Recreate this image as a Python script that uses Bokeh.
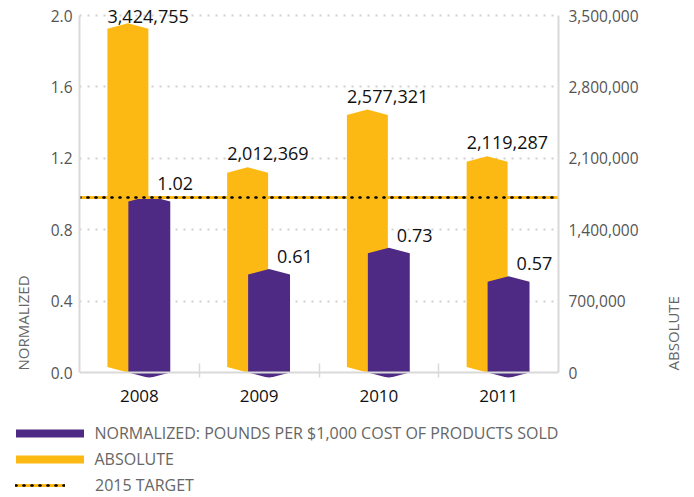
import math
import numpy as np
from bokeh.plotting import figure
from bokeh.layouts import column, row
from bokeh.models import (Range1d, LinearAxis, FixedTicker, NumeralTickFormatter,
                          ColumnDataSource, Legend, LegendItem, Span)
from bokeh.core.properties import value
from bokeh.embed import file_html
from bokeh.resources import INLINE

# ---------------- data ----------------
years = ["2008", "2009", "2010", "2011"]
normalized = [1.02, 0.61, 0.73, 0.57]
absolute = [3424755, 2012369, 2577321, 2119287]
target_2015 = 0.98
left_ticks = [0.0, 0.4, 0.8, 1.2, 1.6, 2.0]
right_ticks = [0, 700000, 1400000, 2100000, 2800000, 3500000]
normalized_labels = ["1.02", "0.61", "0.73", "0.57"]
absolute_labels = ["3,424,755", "2,012,369", "2,577,321", "2,119,287"]
legend_labels = ["NORMALIZED: POUNDS PER $1,000 COST OF PRODUCTS SOLD", "ABSOLUTE", "2015 TARGET"]
axis_titles = ["NORMALIZED", "ABSOLUTE"]

# ---------------- style / layout ----------------
YELLOW = "#FDB913"
PURPLE = "#4F2A84"
FONT = "Open Sans"
AXIS_GRAY = "#d9d9d9"
W, H = 694, 497
H_MAIN = 420
W_LEFT, W_RIGHT = 36, 44
W_MAIN = W - W_LEFT - W_RIGHT
FRAME_L, FRAME_R = 79, 558          # page pixels
PX_TOP_TICK = 15
PX_ZERO = 372
PX_FRAME_BOTTOM = 377
PX_TITLE_START = 370
CHEV = 5.5

left_max = left_ticks[-1]
right_max = right_ticks[-1]
ppu_l = (PX_ZERO - PX_TOP_TICK) / left_max
ppu_r = (PX_ZERO - PX_TOP_TICK) / right_max
n = len(years)
ppx = (FRAME_R - FRAME_L) / n

y_l = Range1d(-(PX_FRAME_BOTTOM - PX_ZERO) / ppu_l, left_max + PX_TOP_TICK / ppu_l)
y_r = Range1d(-(PX_FRAME_BOTTOM - PX_ZERO) / ppu_r, right_max + PX_TOP_TICK / ppu_r)

common = dict(output_backend="svg", toolbar_location=None, outline_line_color=None,
              background_fill_color="white", border_fill_color="white")

p = figure(width=W_MAIN, height=H_MAIN, x_range=Range1d(0, n), y_range=y_l,
           min_border_left=FRAME_L - W_LEFT, min_border_right=W_MAIN - (FRAME_R - W_LEFT),
           min_border_top=0, min_border_bottom=H_MAIN - PX_FRAME_BOTTOM, **common)
p.extra_y_ranges = {"abs": y_r}

Y_OFF, Y_W = -0.096, 0.342
P_OFF, P_W = 0.083, 0.35


def hexagon(xc, w, y0, y1, c):
    xl, xr = xc - w / 2, xc + w / 2
    return ([xl, xc, xr, xr, xc, xl],
            [y0 + c, y0, y0 + c, y1 - c, y1, y1 - c])


centers = np.arange(n) + 0.5
c_r = CHEV / ppu_r
c_l = CHEV / ppu_l
yxs, yys, pxs, pys = [], [], [], []
for i in range(n):
    xs, ys = hexagon(centers[i] + Y_OFF, Y_W, 0, absolute[i], c_r)
    yxs.append(xs); yys.append(ys)
    xs, ys = hexagon(centers[i] + P_OFF, P_W, -c_l, normalized[i] - c_l, c_l)
    pxs.append(xs); pys.append(ys)

# grid
p.ygrid.ticker = FixedTicker(ticks=left_ticks[1:])
p.ygrid.grid_line_color = "#d0d0d0"
p.ygrid.grid_line_width = 2
p.ygrid.grid_line_dash = "2 6"
p.xgrid.grid_line_color = None

# baseline
p.add_layout(Span(location=0, dimension="width", line_color=AXIS_GRAY, line_width=2))

p.patches(xs=yxs, ys=yys, fill_color=YELLOW, line_color=None, y_range_name="abs")
p.patches(xs=pxs, ys=pys, fill_color=PURPLE, line_color=None)

tx = [p.x_range.start, p.x_range.end]
ty = [target_2015, target_2015]
p.line(x=tx, y=ty, line_color=YELLOW, line_width=3)
p.line(x=tx, y=ty, line_color="black", line_width=2.6, line_dash="1 7", line_cap="round")

# value labels
abs_src = ColumnDataSource(dict(
    x=centers + Y_OFF - Y_W / 2,
    y=np.minimum(np.array(absolute) + 13.5 / ppu_r, right_max - 1 / ppu_r),
    t=absolute_labels))
p.text(x="x", y="y", text="t", source=abs_src, y_range_name="abs",
       text_font=value(FONT), text_font_size="18px", text_color="#111",
       text_baseline="alphabetic", text_align="left")
norm_src = ColumnDataSource(dict(
    x=centers + P_OFF - P_W / 2 + 29 / ppx,
    y=normalized, t=normalized_labels))
p.text(x="x", y="y", text="t", source=norm_src, y_offset=-7,
       text_font=value(FONT), text_font_size="18px", text_color="#111",
       text_baseline="alphabetic", text_align="left")

# left axis
ya = p.yaxis[0]
ya.ticker = FixedTicker(ticks=left_ticks)
ya.formatter = NumeralTickFormatter(format="0.0")
ya.bounds = (0, left_max)
ya.major_label_text_font = FONT
ya.major_label_text_font_size = "15.5px"
ya.major_label_text_color = "#555"
ya.major_label_standoff = 7
ya.major_tick_out = 0
ya.major_tick_in = 0
ya.axis_line_color = AXIS_GRAY
ya.axis_line_width = 2
ya.major_tick_line_color = None
ya.minor_tick_line_color = None

# right axis
ra = LinearAxis(y_range_name="abs", ticker=FixedTicker(ticks=right_ticks),
                formatter=NumeralTickFormatter(format="0,0"), bounds=(0, right_max))
ra.major_label_text_font = FONT
ra.major_label_text_font_size = "15.5px"
ra.major_label_text_color = "#555"
ra.major_label_standoff = 10
ra.major_tick_out = 0
ra.major_tick_in = 0
ra.axis_line_color = AXIS_GRAY
ra.axis_line_width = 2
ra.major_tick_line_color = None
ra.minor_tick_line_color = None
p.add_layout(ra, "right")

# x axis
xa = p.xaxis[0]
xa.ticker = FixedTicker(ticks=list(centers), minor_ticks=list(np.arange(1, n)))
xa.major_label_overrides = {float(c): y for c, y in zip(centers, years)}
xa.major_label_text_font = FONT
xa.major_label_text_font_size = "17px"
xa.major_label_text_color = "#111"
xa.major_label_standoff = 12
xa.major_tick_out = 0
xa.major_tick_in = 0
xa.axis_line_color = None
xa.major_tick_line_color = None
xa.minor_tick_in = 14
xa.minor_tick_out = 0
xa.minor_tick_line_color = AXIS_GRAY
xa.minor_tick_line_width = 1.5


# ---------------- axis titles (side panels) ----------------
def side_title(width, text, cx):
    f = figure(width=width, height=H_MAIN, x_range=Range1d(0, width), y_range=Range1d(0, H_MAIN),
               x_axis_location=None, y_axis_location=None,
               min_border_left=0, min_border_right=0, min_border_top=0, min_border_bottom=0,
               **common)
    f.frame_align = False
    f.grid.visible = False
    src = ColumnDataSource(dict(x=[cx], y=[H_MAIN - PX_TITLE_START], t=[text]))
    f.text(x="x", y="y", text="t", source=src, angle=math.pi / 2,
           text_font=value(FONT), text_font_size="15px", text_color="#666",
           text_align="left", text_baseline="middle")
    return f


p_left = side_title(W_LEFT, axis_titles[0], 22)
p_right = side_title(W_RIGHT, axis_titles[1], 672 - (W - W_RIGHT))

# ---------------- legend panel ----------------
H_LEG = H - H_MAIN
pl = figure(width=W, height=H_LEG, x_range=Range1d(0, 1), y_range=Range1d(0, 1),
            x_axis_location=None, y_axis_location=None,
            min_border_left=0, min_border_right=0, min_border_top=0, min_border_bottom=0,
            **common)
pl.frame_align = False
pl.grid.visible = False
lr_norm = pl.patches(xs=pxs, ys=pys, fill_color=PURPLE, line_color=None, visible=False)
lr_abs = pl.patches(xs=yxs, ys=yys, fill_color=YELLOW, line_color=None, visible=False)
lr_t1 = pl.line(x=tx, y=ty, line_color=YELLOW, line_width=3, visible=False)
lr_t2 = pl.line(x=tx, y=ty, line_color="black", line_width=2.6, line_dash="1 7",
                line_cap="round", visible=False)

leg_style = dict(orientation="vertical", glyph_height=10, spacing=3, padding=0, margin=0,
                 border_line_color=None, background_fill_alpha=0, label_text_font=FONT,
                 label_text_font_size="16px", label_text_color="#666", label_height=23,
                 inactive_fill_alpha=0)
legend_a = Legend(items=[
    LegendItem(label=legend_labels[0], renderers=[lr_norm]),
    LegendItem(label=legend_labels[1], renderers=[lr_abs]),
], location=(6.5, 27), glyph_width=85, label_standoff=3, **leg_style)
legend_b = Legend(items=[
    LegendItem(label=legend_labels[2], renderers=[lr_t1, lr_t2]),
], location=(15, 1), glyph_width=50, label_standoff=30, **leg_style)
pl.add_layout(legend_a, "center")
pl.add_layout(legend_b, "center")

layout = column(row(p_left, p, p_right, spacing=0), pl, spacing=0)
open("out.html", "w").write(file_html(layout, INLINE))
